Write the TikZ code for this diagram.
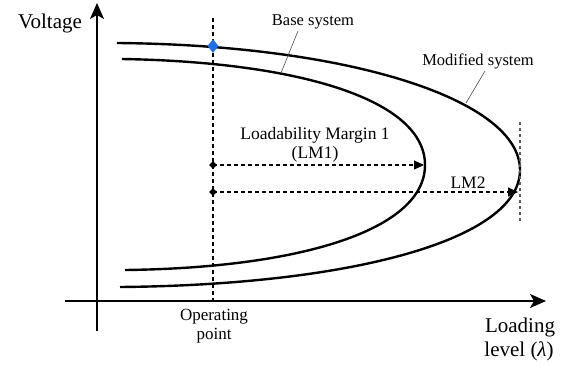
\documentclass[tikz,border=0pt]{standalone}
\usepackage{fontspec}
\setmainfont{Liberation Serif}
\usetikzlibrary{arrows.meta,shapes.geometric}
\begin{document}
\begin{tikzpicture}[x=1pt,y=-1pt,
  axis/.style={line width=1.6pt,-{Stealth[length=16pt,width=14pt,inset=4pt]}},
  curve/.style={line width=2.4pt},
  opline/.style={line width=1.1pt,dash pattern=on 4pt off 3pt},
  margin/.style={line width=1.1pt,dash pattern=on 4pt off 3pt,-{Triangle[length=10pt,width=9pt]}},
  limline/.style={line width=1.2pt,gray!70!black,dash pattern=on 3pt off 3pt},
  leader/.style={line width=0.6pt,black!70},
  dot/.style={diamond,fill=black,minimum width=8pt,minimum height=8pt,inner sep=0pt},
  lbl/.style={inner sep=0pt,anchor=base,font=\fontsize{16.5}{18}\selectfont},
  mlbl/.style={inner sep=0pt,anchor=base,font=\fontsize{17.5}{19}\selectfont},
  biglbl/.style={inner sep=0pt,anchor=base,font=\fontsize{21}{24}\selectfont},
  oplbl/.style={inner sep=0pt,anchor=base,font=\fontsize{17}{18}\selectfont}
]
\useasboundingbox (0,0) rectangle (574,367);
% axes
\coordinate (yb) at (97,331);
\coordinate (yt) at (97,3);
\coordinate (xl) at (65,301);
\coordinate (xr) at (546,301);
\draw[axis] (yb) -- (yt);
\draw[axis] (xl) -- (xr);
% curves
\coordinate (b0) at (122,59);
\coordinate (bn) at (425,165);
\coordinate (b1) at (125,270);
\coordinate (m0) at (117,43);
\coordinate (mn) at (520,170);
\coordinate (m1) at (120,287);
\draw[curve] (b0) .. controls (300,62) and (425,100) .. (bn)
  .. controls (425,230) and (300,268) .. (b1);
\draw[curve] (m0) .. controls (350,45) and (520,100) .. (mn)
  .. controls (520,240) and (350,285) .. (m1);
% operating point line
\coordinate (opt) at (213,18);
\coordinate (opb) at (213,300);
\draw[opline] (opt) -- (opb);
% limit line
\coordinate (lt) at (520,122);
\coordinate (lb) at (520,222);
\draw[limline] (lt) -- (lb);
% margin arrows
\coordinate (p1) at (213,165);
\coordinate (p2) at (213,192);
\coordinate (e1) at (424,165);
\coordinate (e2) at (518,192);
\draw[margin] (p1) -- (e1);
\draw[margin] (p2) -- (e2);
\node[dot] (d1) at (p1) {};
\node[dot] (d2) at (p2) {};
\node[diamond,fill={rgb,255:red,30;green,110;blue,240},minimum width=11pt,minimum height=14pt,inner sep=0pt] (op) at (213,46) {};
% labels
\node[biglbl] (volt) at (50,28) {Voltage};
\node[biglbl] (load1) at (520,332) {Loading};
\node[biglbl] (load2) at (519,356) {level (\textit{λ})};
\node[oplbl] (op1) at (214,320) {Operating};
\node[oplbl] (op2) at (214,339) {point};
\node[lbl] (base) at (313,25) {Base system};
\node[lbl] (mod) at (478,65) {Modified system};
\node[mlbl] (lm1a) at (315,139) {Loadability Margin 1};
\node[mlbl] (lm1b) at (315,158) {(LM1)};
\node[mlbl] (lm2) at (468,188) {LM2};
% leaders
\coordinate (bs) at (298,31);
\coordinate (ms) at (485,71);
\coordinate (bc) at (281,73);
\coordinate (mc) at (466,103);
\draw[leader] (bs) -- (bc);
\draw[leader] (ms) -- (mc);
\end{tikzpicture}
\end{document}
